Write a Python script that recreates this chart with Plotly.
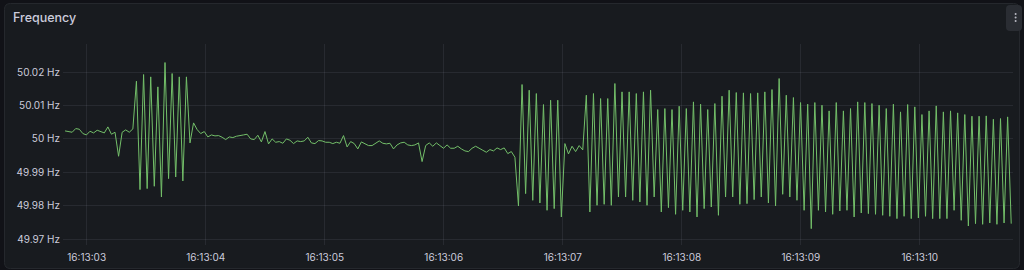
import plotly.graph_objects as go
import pandas as pd

# ---------------- data ----------------
start_time = "2024-05-01 16:13:02.818"
sample_ms = 30

quiet_start = [50.0024, 50.0021, 50.0020, 50.0031, 50.0029, 50.0016, 50.0012, 50.0023, 50.0018, 50.0026,
               50.0022, 50.0018, 50.0036, 50.0014, 50.0020, 49.9948, 50.0020, 50.0027, 50.0020, 50.0030]

burst_1 = [50.0173, 49.9848, 50.0193, 49.9851, 50.0186, 49.9858, 50.0156, 49.9826, 50.0229, 49.9881,
           50.0196, 49.9886, 50.0186, 49.9874, 50.0186]

quiet_mid = [49.9988, 50.0048, 50.0028, 50.0016, 50.0022, 50.0006, 50.0012,
             50.0009, 50.0010, 50.0005, 49.9998, 50.0006, 50.0004, 50.0008, 50.0009, 50.0012, 50.0014,
             50.0000, 49.9998, 50.0011, 49.9991, 50.0022, 49.9985, 50.0000, 49.9990, 49.9992, 49.9987,
             50.0000, 49.9996, 49.9986, 49.9994, 49.9992, 49.9994, 50.0005, 49.9988, 49.9986, 49.9995,
             49.9994, 49.9990, 49.9990, 49.9986, 49.9990, 49.9987, 50.0010, 49.9976, 49.9992, 49.9986,
             49.9970, 49.9991, 49.9985, 49.9980, 49.9980, 49.9986, 49.9994, 49.9987, 49.9985, 49.9987,
             49.9970, 49.9982, 49.9988, 49.9990, 49.9982, 49.9980, 49.9982, 49.9988, 49.9932, 49.9980,
             49.9988, 49.9978, 49.9988, 49.9980, 49.9972, 49.9982, 49.9972, 49.9972, 49.9978, 49.9970,
             49.9964, 49.9962, 49.9972, 49.9978, 49.9973, 49.9966, 49.9960, 49.9968, 49.9964, 49.9973,
             49.9968, 49.9973, 49.9956, 49.9962, 49.9945]

burst_2 = [49.9799, 50.0163, 49.9836, 50.0146, 49.9816, 50.0136, 49.9808, 50.0103, 49.9786, 50.0116,
           49.9791, 50.0116, 49.9766]

quiet_patch = [49.9986, 49.9955, 49.9978, 49.9962, 49.9980, 49.9967]

osc_peaks = [50.0131, 50.0136, 50.0121, 50.0121, 50.0166, 50.0141, 50.0141, 50.0136, 50.0141, 50.0146,
             50.0088, 50.0091, 50.0088, 50.0098, 50.0091, 50.0111, 50.0104, 50.0088, 50.0106, 50.0128,
             50.0146, 50.0139, 50.0138, 50.0136, 50.0138, 50.0141, 50.0148, 50.0181, 50.0131, 50.0124,
             50.0109, 50.0104, 50.0109, 50.0101, 50.0084, 50.0109, 50.0084, 50.0091, 50.0111, 50.0109,
             50.0106, 50.0101, 50.0091, 50.0104, 50.0081, 50.0103, 50.0096, 50.0073, 50.0084, 50.0099,
             50.0081, 50.0084, 50.0078, 50.0073, 50.0068, 50.0068, 50.0069, 50.0059, 50.0061, 50.0066]

osc_troughs = [49.9781, 49.9801, 49.9804, 49.9801, 49.9826, 49.9826, 49.9816, 49.9811, 49.9801, 49.9826,
               49.9781, 49.9794, 49.9774, 49.9786, 49.9781, 49.9766, 49.9791, 49.9796, 49.9771, 49.9826,
               49.9826, 49.9804, 49.9806, 49.9818, 49.9826, 49.9808, 49.9799, 49.9834, 49.9826, 49.9816,
               49.9786, 49.9731, 49.9786, 49.9781, 49.9774, 49.9784, 49.9786, 49.9766, 49.9778, 49.9776,
               49.9774, 49.9771, 49.9768, 49.9761, 49.9768, 49.9761, 49.9763, 49.9768, 49.9761, 49.9761,
               49.9761, 49.9786, 49.9756, 49.9739, 49.9746, 49.9744, 49.9748, 49.9744, 49.9748, 49.9746]

y_tick_vals = [49.97, 49.98, 49.99, 50.00, 50.01, 50.02]
y_tick_text = ["49.97 Hz", "49.98 Hz", "49.99 Hz", "50 Hz", "50.01 Hz", "50.02 Hz"]

x_range = ["2024-05-01 16:13:02.801", "2024-05-01 16:13:10.783"]
y_range = [49.9682, 50.02845]
panel_title = "Frequency"

# ---------------- assemble series ----------------
oscillation = []
for p, t in zip(osc_peaks, osc_troughs):
    oscillation += [p, t]
values = quiet_start + burst_1 + quiet_mid + burst_2 + quiet_patch + oscillation
times = pd.date_range(start=start_time, periods=len(values), freq=f"{sample_ms}ms")

# ---------------- geometry helpers ----------------
W, H = 1024, 270
L, R, T, B = 63, 11, 44, 25
PW, PH = W - L - R, H - T - B


def fx(px):
    return (px - L) / PW


def fy(py):
    return (H - B - py) / PH


def rounded_rect(x0, y0, x1, y1, r):
    return (f"M {fx(x0 + r)} {fy(y0)} L {fx(x1 - r)} {fy(y0)} Q {fx(x1)} {fy(y0)} {fx(x1)} {fy(y0 + r)} "
            f"L {fx(x1)} {fy(y1 - r)} Q {fx(x1)} {fy(y1)} {fx(x1 - r)} {fy(y1)} "
            f"L {fx(x0 + r)} {fy(y1)} Q {fx(x0)} {fy(y1)} {fx(x0)} {fy(y1 - r)} "
            f"L {fx(x0)} {fy(y0 + r)} Q {fx(x0)} {fy(y0)} {fx(x0 + r)} {fy(y0)} Z")


BG_OUT = "#111217"
PANEL = "#181b1f"
BORDER = "#25282d"
TEXT = "#ccccdc"
GRID = "rgba(204,204,220,0.09)"
GREEN = "#73BF69"

fig = go.Figure()
fig.add_trace(go.Scatter(x=times, y=values, mode="lines",
                         line=dict(color=GREEN, width=1), hoverinfo="skip", showlegend=False))

shapes = [
    dict(type="path", xref="paper", yref="paper", path=rounded_rect(4.5, 3.5, 1019.5, 268.5, 6),
         fillcolor=PANEL, line=dict(color=BORDER, width=1), layer="below"),
    dict(type="path", xref="paper", yref="paper", path=rounded_rect(1006, 5, 1022, 31, 4),
         fillcolor="#2a2d33", line=dict(width=0), layer="below"),
]
for dy in (14, 17.5, 21):
    shapes.append(dict(type="circle", xref="paper", yref="paper",
                       x0=fx(1014.6), x1=fx(1016.6), y0=fy(dy - 1), y1=fy(dy + 1),
                       fillcolor="#b8b9c2", line=dict(width=0), layer="above"))

fig.update_layout(
    width=W, height=H, autosize=False,
    margin=dict(l=L, r=R, t=T, b=B, pad=0),
    paper_bgcolor=BG_OUT, plot_bgcolor="rgba(0,0,0,0)",
    font=dict(family="Inter", size=10, color=TEXT),
    shapes=shapes,
    annotations=[dict(text=panel_title, xref="paper", yref="paper", x=fx(10.5), y=fy(18),
                      xanchor="left", yanchor="middle", showarrow=False,
                      font=dict(family="Inter", size=12.5, color=TEXT, weight=500))],
    xaxis=dict(type="date", range=x_range, tickformat="%H:%M:%S", dtick=1000,
               tick0="2024-05-01 16:13:03", showgrid=True, gridcolor=GRID, gridwidth=1,
               zeroline=False, showline=False, ticks="", ticklabelstandoff=5, automargin=False,
               tickfont=dict(size=10, color=TEXT)),
    yaxis=dict(range=y_range, tickvals=y_tick_vals, ticktext=y_tick_text, automargin=False,
               showgrid=True, gridcolor=GRID, gridwidth=1, zeroline=False, showline=False,
               ticks="", ticklabelstandoff=2, tickfont=dict(size=10, color=TEXT)),
)

fig.write_html("out.html", config={"displayModeBar": False, "responsive": False})
